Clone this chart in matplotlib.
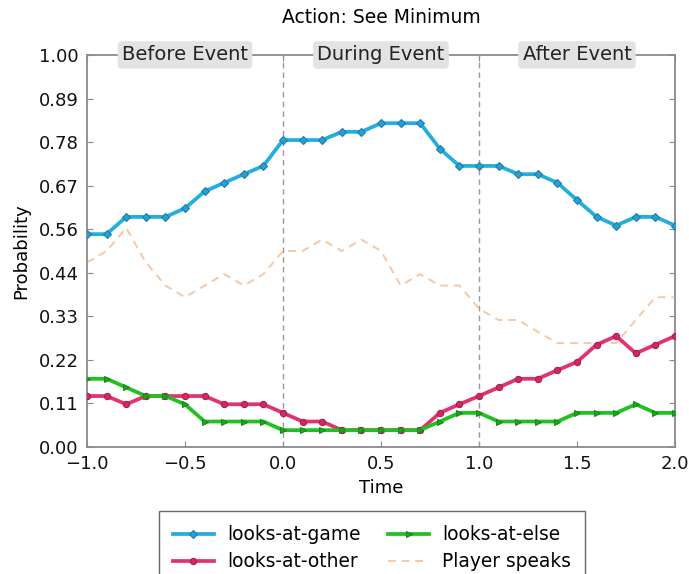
import numpy as np
import matplotlib
matplotlib.use("Agg")
import matplotlib.pyplot as plt

# Time axis (seconds relative to the event)
time = np.round(np.arange(-1.0, 2.01, 0.1), 1)

looks_at_game = [0.543, 0.543, 0.587, 0.587, 0.587, 0.609, 0.652, 0.674, 0.696, 0.717,
                 0.783, 0.783, 0.783, 0.804, 0.804, 0.826, 0.826, 0.826, 0.761, 0.717,
                 0.717, 0.717, 0.696, 0.696, 0.674, 0.630, 0.587, 0.565, 0.587, 0.587, 0.565]
looks_at_other = [0.130, 0.130, 0.109, 0.130, 0.130, 0.130, 0.130, 0.109, 0.109, 0.109,
                  0.087, 0.065, 0.065, 0.043, 0.043, 0.043, 0.043, 0.043, 0.087, 0.109,
                  0.130, 0.152, 0.174, 0.174, 0.196, 0.217, 0.261, 0.283, 0.239, 0.261, 0.283]
looks_at_else = [0.174, 0.174, 0.152, 0.130, 0.130, 0.109, 0.065, 0.065, 0.065, 0.065,
                 0.043, 0.043, 0.043, 0.043, 0.043, 0.043, 0.043, 0.043, 0.065, 0.087,
                 0.087, 0.065, 0.065, 0.065, 0.065, 0.087, 0.087, 0.087, 0.109, 0.087, 0.087]
player_speaks = [0.471, 0.500, 0.559, 0.471, 0.412, 0.382, 0.412, 0.441, 0.412, 0.441,
                 0.500, 0.500, 0.529, 0.500, 0.529, 0.500, 0.412, 0.441, 0.412, 0.412,
                 0.353, 0.324, 0.324, 0.294, 0.265, 0.265, 0.265, 0.265, 0.324, 0.382, 0.382]

phase_labels = ["Before Event", "During Event", "After Event"]
phase_centers = [-0.5, 0.5, 1.5]
phase_bounds = [0.0, 1.0]

y_ticks = np.linspace(0, 1, 10)
x_ticks = [-1.0, -0.5, 0.0, 0.5, 1.0, 1.5, 2.0]

plt.rcParams["font.family"] = ["DejaVu Sans"]

fig = plt.figure(figsize=(6.89, 5.74), dpi=100)
ax = fig.add_axes([87 / 689, 1 - 447 / 574, 588 / 689, 392 / 574])

frame_col = "#8a8a8a"

ax.plot(time, looks_at_game, color="#22aee0", lw=2.7, marker="D", ms=4.5,
        mfc="#2a9fd0", mec="#1c7fae", mew=0.8, label="looks-at-game", zorder=4)
ax.plot(time, looks_at_other, color="#e3336f", lw=2.7, marker="o", ms=4.5,
        mfc="#d02a63", mec="#a8204e", mew=0.8, label="looks-at-other", zorder=4)
ax.plot(time, looks_at_else, color="#22c022", lw=2.7, marker=">", ms=4.5,
        mfc="#1fa81f", mec="#188a18", mew=0.8, label="looks-at-else", zorder=4)
ax.plot(time, player_speaks, color="#f2a36a", lw=1.4, ls=(0, (4, 3)), alpha=0.6,
        label="Player speaks", zorder=3)

for xb in phase_bounds:
    ax.axvline(xb, color="#999999", lw=1.0, ls=(0, (4, 3)), zorder=2)

for xc, lab in zip(phase_centers, phase_labels):
    ax.text(xc, 1.0, lab, ha="center", va="center", fontsize=14, color="#222222",
            bbox=dict(boxstyle="round,pad=0.22", fc="#e3e3e3", ec="none"),
            zorder=6, clip_on=False)

ax.set_xlim(-1.0, 2.0)
ax.set_ylim(0.0, 1.0)
ax.set_xticks(x_ticks)
ax.set_xticklabels(["\u22121.0", "\u22120.5", "0.0", "0.5", "1.0", "1.5", "2.0"])
ax.set_yticks(y_ticks)
ax.set_yticklabels([f"{v:.2f}" for v in y_ticks])
ax.tick_params(direction="in", length=4, width=0.8, color=frame_col,
               labelsize=13, labelcolor="#111111", top=True, right=True, pad=6)
for sp in ax.spines.values():
    sp.set_color(frame_col)
    sp.set_linewidth(1.3)

ax.set_xlabel("Time", fontsize=13, labelpad=4)
ax.set_ylabel("Probability", fontsize=13, labelpad=6)
ax.set_title("Action: See Minimum", fontsize=13.5, pad=23)

leg = ax.legend(loc="upper center", bbox_to_anchor=(372 / 689, 1 - 502 / 574),
                bbox_transform=fig.transFigure, ncol=2, fontsize=13.4,
                frameon=True, fancybox=False, handlelength=2.2,
                columnspacing=1.5, handletextpad=0.7, borderpad=0.75,
                labelspacing=0.42)
leg.get_frame().set_edgecolor("#444444")
leg.get_frame().set_linewidth(1.0)

fig.savefig("out.png", dpi=100)
